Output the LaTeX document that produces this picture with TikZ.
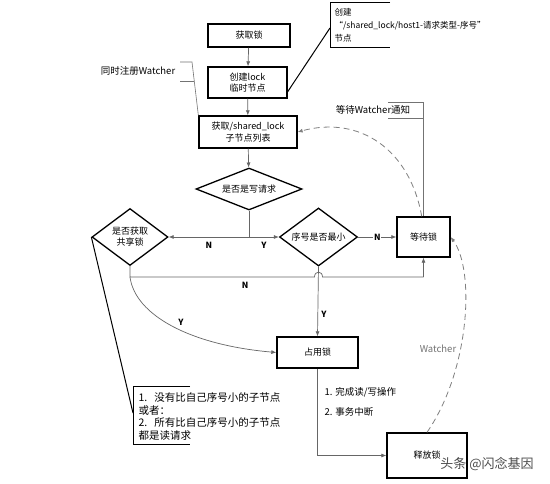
\documentclass[tikz,border=0pt]{standalone}
\usepackage{fontspec}
\setmainfont{Noto Sans CJK SC}
\usetikzlibrary{shapes.geometric,arrows.meta}
\begin{document}
\begin{tikzpicture}[x=1pt,y=-1pt,
  box/.style={draw=black,line width=1.3pt,align=center,font=\fontsize{9}{11.5}\selectfont,inner sep=1pt},
  dia/.style={diamond,draw=black,line width=1.3pt,align=center,font=\fontsize{9}{11}\selectfont,inner sep=0pt},
  conn/.style={draw=black!60,line width=0.7pt},
  arr/.style={conn,-{Latex[length=5pt,width=4pt]}},
  lbl/.style={font=\fontsize{8.5}{10}\selectfont\bfseries},
  txt/.style={font=\fontsize{9.5}{12.7}\selectfont,align=left},
  brk/.style={draw=black!55,line width=0.6pt},
  thk/.style={draw=black,line width=1pt},
  dsh/.style={draw=black!50,line width=0.8pt,dash pattern=on 6pt off 4pt}
]
\useasboundingbox (0,0) rectangle (550,484);
\fill[white] (0,0) rectangle (550,484);

% main boxes and decisions
\node[box,minimum width=82pt,minimum height=23pt] (get) at (249,35.5) {获取锁};
\node[box,minimum width=79pt,minimum height=31pt] (create) at (247.5,82.5) {创建lock\\临时节点};
\node[box,minimum width=98pt,minimum height=32pt] (list) at (248,132) {获取/shared\_lock\\子节点列表};
\node[dia,aspect=2,minimum width=106pt,minimum height=42pt] (isw) at (249,189) {是否是写请求};
\node[dia,aspect=1.3,minimum width=76pt,minimum height=57pt] (shr) at (130,237) {是否获取\\共享锁};
\node[dia,aspect=1.5,minimum width=78pt,minimum height=58pt] (min) at (318.5,237) {序号是否最小};
\node[box,minimum width=53pt,minimum height=40pt] (wait) at (423.5,237) {等待锁};
\node[box,minimum width=81pt,minimum height=31pt] (occ) at (317.5,352.5) {占用锁};
\node[box,minimum width=80pt,minimum height=45pt] (rel) at (427,455.5) {释放锁};

% main flow
\draw[arr] (get) -- (create);
\draw[arr] (create) -- (list);
\draw[arr] (list) -- (isw);
\coordinate (split) at (249,237);
\draw[conn] (isw.south) -- (split);
\draw[arr] (split) -- node[lbl,below=1pt] (nl1) {N} (shr.east);
\draw[arr] (split) -- node[lbl,below=1pt] (yl1) {Y} (min.west);
\draw[arr] (min.east) -- node[lbl,fill=white,inner sep=1pt] (nl2) {N} (wait.west);
\draw[arr] (min.south) -- node[lbl,right,pos=0.69] (yl2) {Y} (occ.north);

% shared-lock branch
\coordinate (jn) at (130,277);
\coordinate (h1) at (314.5,277);
\coordinate (h2) at (322.5,277);
\coordinate (h3) at (423.5,277);
\draw[conn] (shr.south) -- (jn) -- (h1) .. controls (314.5,270.5) and (322.5,270.5) .. (h2) -- (h3);
\draw[arr] (h3) -- (wait.south);
\node[lbl] (nl3) at (245,285) {N};
\draw[arr] (jn) .. controls (135,315) and (190,345) .. (occ.west);
\node[lbl] (yl3) at (181,322) {Y};

% release
\draw[arr] (occ.south) |- (rel.west);
\node[txt,anchor=west] (op1) at (321,392) {1. 完成读/写操作};
\node[txt,anchor=west] (op2) at (321,412) {2. 事务中断};

% watcher dashed curves
\draw[dsh,-{Latex[length=5pt,width=4pt]}] (wait.95) .. controls (410,150) and (360,115) .. (list.east);
\draw[dsh,-{Latex[length=5pt,width=4pt]}] (rel.north) .. controls (470,370) and (475,270) .. (wait.east);
\node[font=\fontsize{9.5}{11}\selectfont,text=black!55] (wl) at (438,349) {Watcher};

% annotation: create node
\coordinate (a1) at (330,28);
\draw[thk] (create.-13) -- (a1);
\draw[thk] (390,3) -- (330,3) -- (330,48) -- (390,48);
\node[txt,anchor=west,font=\fontsize{8.5}{13}\selectfont] (anntxt) at (331,25.5) {创建\\“/shared\_lock/host1-请求类型-序号”\\节点};

% annotation: register watcher
\node[font=\fontsize{9.5}{11}\selectfont] (regtxt) at (138,71) {同时注册Watcher};
\draw[brk] (180,62) -- (192,62) -- (list.north west);
\draw[brk] (180,81) -- (193.5,81);

% annotation: wait watcher notice
\node[font=\fontsize{9.5}{11}\selectfont] (waittxt) at (373,110) {等待Watcher通知};
\draw[brk] (388,102) -- (423.5,102) -- (wait.north);
\draw[brk] (388,118) -- (423.5,118);

% annotation: shared lock condition
\coordinate (a2) at (133,413);
\draw[thk] (shr.west) -- (a2);
\draw[thk] (190,387) -- (133,387) -- (133,445) -- (190,445);
\node[txt,anchor=north west,font=\fontsize{10.5}{12.7}\selectfont] (note) at (135,389) {1.\ \ \ 没有比自己序号小的子节点\\或者：\\2.\ \ \ 所有比自己序号小的子节点\\都是读请求};

% watermark
\node[font=\fontsize{13}{14}\selectfont,text=black!70] (wm) at (487,464) {头条 @闪念基因};
\end{tikzpicture}
\end{document}
